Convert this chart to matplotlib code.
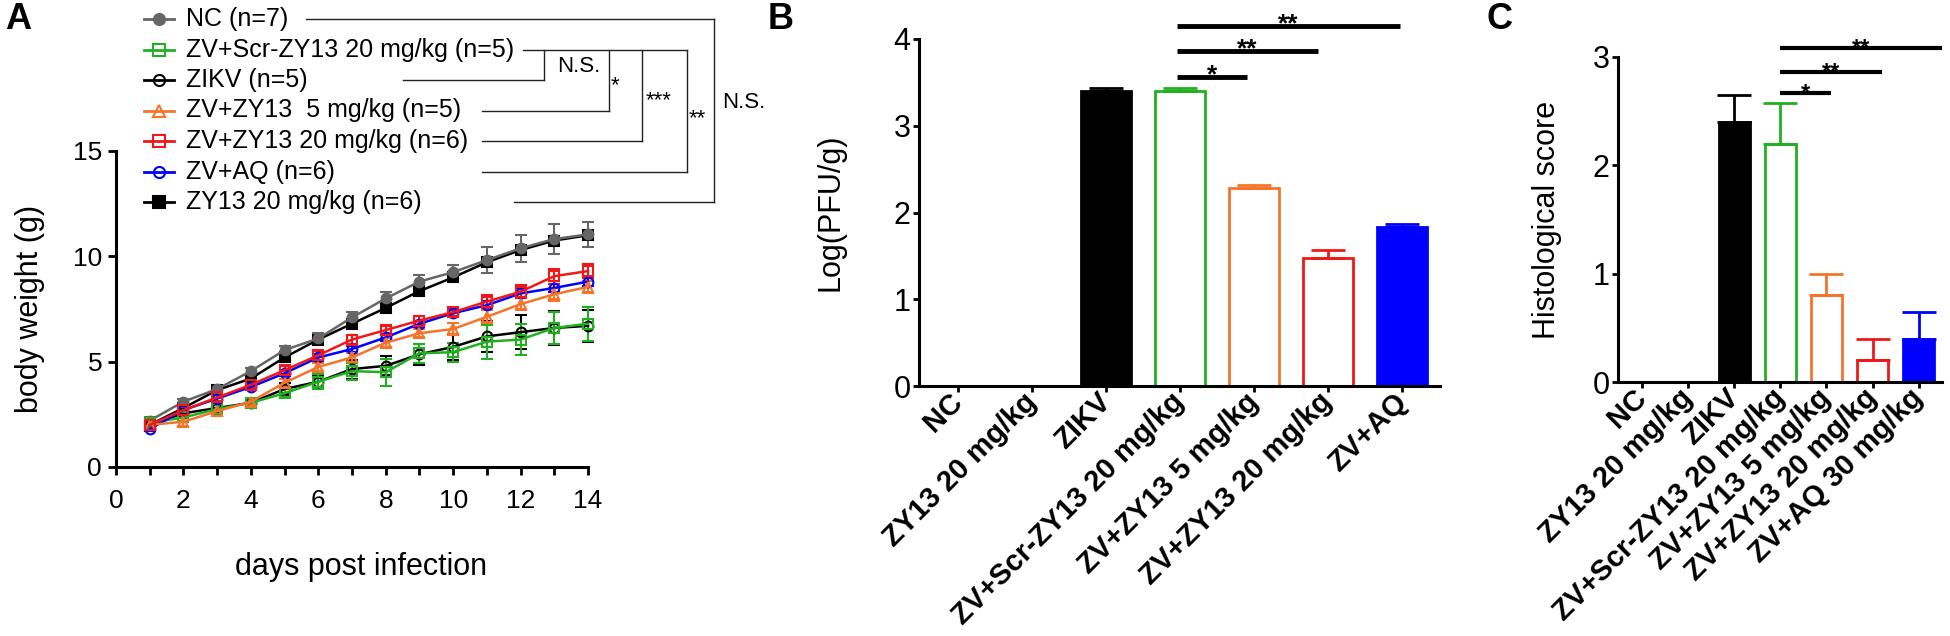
import numpy as np
import matplotlib
matplotlib.use("Agg")
import matplotlib.pyplot as plt

plt.rcParams['font.family'] = ['Liberation Sans', 'DejaVu Sans']

# --- panel A: body weight ---
days = np.arange(1, 15)
labels_a = ['NC (n=7)', 'ZV+Scr-ZY13 20 mg/kg (n=5)', 'ZIKV (n=5)',
            'ZV+ZY13  5 mg/kg (n=5)', 'ZV+ZY13 20 mg/kg (n=6)', 'ZV+AQ (n=6)',
            'ZY13 20 mg/kg (n=6)']
nc_mean = [2.2, 3.1, 3.7, 4.55, 5.55, 6.1, 7.1, 8.0, 8.8, 9.25, 9.82, 10.38, 10.82, 11.04]
nc_err = [0.15, 0.15, 0.15, 0.15, 0.2, 0.25, 0.25, 0.3, 0.3, 0.35, 0.6, 0.65, 0.7, 0.6]
scr_mean = [2.1, 2.35, 2.75, 3.05, 3.5, 4.05, 4.55, 4.5, 5.4, 5.45, 5.95, 6.05, 6.6, 6.8]
scr_err = [0.1, 0.15, 0.2, 0.2, 0.2, 0.35, 0.4, 0.65, 0.45, 0.45, 0.8, 0.75, 0.75, 0.8]
zikv_mean = [2.0, 2.55, 2.8, 3.05, 3.7, 4.05, 4.65, 4.8, 5.35, 5.7, 6.2, 6.4, 6.6, 6.7]
zikv_err = [0.1, 0.15, 0.15, 0.2, 0.3, 0.3, 0.45, 0.45, 0.5, 0.6, 0.75, 0.8, 0.8, 0.75]
zv5_mean = [2.0, 2.15, 2.65, 3.1, 4.0, 4.75, 5.2, 5.9, 6.35, 6.55, 7.13, 7.73, 8.2, 8.55]
zv5_err = [0.1, 0.2, 0.15, 0.15, 0.2, 0.2, 0.2, 0.2, 0.2, 0.3, 0.3, 0.3, 0.3, 0.3]
zv20_mean = [2.0, 2.7, 3.3, 3.9, 4.6, 5.3, 6.05, 6.5, 6.95, 7.35, 7.85, 8.32, 9.06, 9.3]
zv20_err = [0.1, 0.15, 0.15, 0.15, 0.2, 0.2, 0.2, 0.2, 0.2, 0.2, 0.3, 0.3, 0.35, 0.35]
aq_mean = [1.8, 2.7, 3.25, 3.8, 4.45, 5.2, 5.6, 6.15, 6.8, 7.3, 7.68, 8.24, 8.5, 8.8]
aq_err = [0.1, 0.15, 0.15, 0.15, 0.15, 0.15, 0.15, 0.15, 0.15, 0.15, 0.2, 0.2, 0.2, 0.2]
zy_mean = [2.0, 2.8, 3.65, 4.2, 5.2, 6.05, 6.8, 7.55, 8.35, 9.0, 9.72, 10.3, 10.75, 11.0]
zy_err = [0.1, 0.15, 0.15, 0.15, 0.15, 0.15, 0.15, 0.15, 0.15, 0.15, 0.2, 0.2, 0.2, 0.2]

GRAY = '#666666'
GREEN = '#22b022'
ORANGE = '#f5742a'
RED = '#f01818'
BLUE = '#0000ff'

# (mean, err, colour, marker, filled) in legend order
series_a = [
    (nc_mean, nc_err, GRAY, 'o', True),
    (scr_mean, scr_err, GREEN, 's', False),
    (zikv_mean, zikv_err, 'black', 'o', False),
    (zv5_mean, zv5_err, ORANGE, '^', False),
    (zv20_mean, zv20_err, RED, 's', False),
    (aq_mean, aq_err, BLUE, 'o', False),
    (zy_mean, zy_err, 'black', 's', True),
]
draw_order = [6, 0, 2, 1, 5, 3, 4]

# --- panel B: viral load ---
names_b = ['NC', 'ZY13 20 mg/kg', 'ZIKV', 'ZV+Scr-ZY13 20 mg/kg',
           'ZV+ZY13 5 mg/kg', 'ZV+ZY13 20 mg/kg', 'ZV+AQ']
mean_b = [0, 0, 3.40, 3.40, 2.28, 1.47, 1.83]
err_b = [0, 0, 0.04, 0.03, 0.04, 0.10, 0.04]
sig_b = [(2.95, 3.9, 3.56, '*'), (2.95, 4.86, 3.86, '**'), (2.95, 5.97, 4.15, '**')]

# --- panel C: histology ---
names_c = ['NC', 'ZY13 20 mg/kg', 'ZIKV', 'ZV+Scr-ZY13 20 mg/kg',
           'ZV+ZY13 5 mg/kg', 'ZV+ZY13 20 mg/kg', 'ZV+AQ 30 mg/kg']
mean_c = [0, 0, 2.4, 2.2, 0.8, 0.2, 0.4]
err_c = [0, 0, 0.25, 0.38, 0.2, 0.2, 0.25]
sig_c = [(3.0, 4.1, 2.67, '*'), (3.0, 5.2, 2.86, '**'), (3.0, 6.5, 3.08, '**')]

bar_face = ['none', 'none', 'black', 'white', 'white', 'white', BLUE]
bar_edge = ['none', 'none', 'black', GREEN, ORANGE, RED, BLUE]

W, H = 1950, 636
fig = plt.figure(figsize=(W / 100, H / 100), dpi=100)

# overlay in pixel coords for legend / brackets / panel letters
ov = fig.add_axes([0, 0, 1, 1], zorder=5)
ov.set_xlim(0, W)
ov.set_ylim(H, 0)
ov.axis('off')
ov.patch.set_alpha(0)

# ---------- A ----------
axA = fig.add_axes([116 / W, 1 - 467 / H, 472 / W, 316 / H])
for i in draw_order:
    m, e, c, mk, filled = series_a[i]
    axA.errorbar(days, m, yerr=e, color=c, marker=mk, ms=7,
                 mfc=c if filled else 'none', mec=c, mew=1.5, lw=1.8,
                 elinewidth=1.5, capsize=4, capthick=1.5, clip_on=False)
axA.set_xlim(0, 14)
axA.set_ylim(0, 15)
axA.set_xticks(range(0, 15, 2))
axA.set_xticks(range(1, 15, 2), minor=True)
axA.set_yticks([0, 5, 10, 15])
axA.spines[['top', 'right']].set_visible(False)
axA.spines[['left', 'bottom']].set_linewidth(2.2)
axA.tick_params(which='both', direction='out', width=2, length=6, labelsize=19)
axA.tick_params(axis='x', pad=10)
axA.tick_params(axis='y', pad=4)
axA.set_xlabel('days post infection', fontsize=22)
axA.xaxis.set_label_coords(0.52, -0.27)
axA.set_ylabel('body weight (g)', fontsize=22)
axA.yaxis.set_label_coords(-0.15, 0.5)

# legend drawn by hand, rows in pixel coords
rows = [19 + 30.5 * i for i in range(7)]
for (m, e, c, mk, filled), lab, y in zip(series_a, labels_a, rows):
    ov.plot([144, 159, 174], [y, y, y], color=c, lw=2, marker=mk, ms=8,
            markevery=[1], mfc=c if filled else 'none', mec=c, mew=1.5)
    ov.text(186, y, lab, fontsize=18, va='center', ha='left')

# brackets
bk = dict(color='#222222', lw=1.0)
row_lines = [(0, 306, 714), (1, 523, 687), (2, 403, 544), (3, 482, 609),
             (4, 482, 642), (5, 482, 687), (6, 514, 714)]
for r, x0, x1 in row_lines:
    ov.plot([x0, x1], [rows[r], rows[r]], **bk)
for x, r0, r1 in [(544, 1, 2), (609, 1, 3), (642, 1, 4), (687, 1, 5), (714, 0, 6)]:
    ov.plot([x, x], [rows[r0], rows[r1]], **bk)
ov.text(557, 66, 'N.S.', fontsize=16, va='center')
ov.text(611, 86, '*', fontsize=16, va='center')
ov.text(646, 101, '***', fontsize=16, va='center')
ov.text(689, 119, '**', fontsize=16, va='center')
ov.text(722, 103, 'N.S.', fontsize=16, va='center')

ov.text(5, 2, 'A', fontsize=26, fontweight='bold', va='top')
ov.text(768, 2, 'B', fontsize=26, fontweight='bold', va='top')
ov.text(1487, 2, 'C', fontsize=26, fontweight='bold', va='top')


def bar_panel(ax, names, mean, err, sig, ymax, ylab, ylab_x, sig_lw, star_fs, star_dy):
    x = np.arange(len(names))
    ax.bar(x, mean, width=0.68, color=bar_face, edgecolor=bar_edge, linewidth=2)
    for xi, mv, ev, c in zip(x, mean, err, bar_edge):
        if mv > 0:
            ax.errorbar(xi, mv, yerr=[[0], [ev]], color=c, elinewidth=2,
                        capsize=12, capthick=2)
    for x0, x1, y, s in sig:
        ax.plot([x0, x1], [y, y], color='black', lw=sig_lw, clip_on=False,
                solid_capstyle='butt')
        ax.annotate(s, xy=((x0 + x1) / 2, y), xytext=(0, star_dy),
                    textcoords='offset points', ha='center', va='baseline',
                    fontsize=star_fs, fontweight='bold', annotation_clip=False)
    ax.set_xlim(-0.53, len(names) - 0.49)
    ax.set_ylim(0, ymax)
    ax.set_yticks(range(0, ymax + 1))
    ax.set_xticks(x)
    ax.set_xticklabels(names, rotation=45, ha='right', va='center',
                       rotation_mode='anchor', fontweight='bold', fontsize=21)
    ax.spines[['top', 'right']].set_visible(False)
    ax.spines[['left', 'bottom']].set_linewidth(2.2)
    ax.tick_params(axis='y', direction='out', width=2, length=4, labelsize=22, pad=2)
    ax.tick_params(axis='x', direction='out', width=2, length=4, pad=4.5)
    ax.set_ylabel(ylab, fontsize=22)
    ax.yaxis.set_label_coords(ylab_x, 0.5)


axB = fig.add_axes([919 / W, 1 - 386 / H, 521 / W, 347 / H])
bar_panel(axB, names_b, mean_b, err_b, sig_b, 4, 'Log(PFU/g)', -0.142, 3.5, 19, -4)

axC = fig.add_axes([1618 / W, 1 - 382 / H, 324 / W, 325 / H])
bar_panel(axC, names_c, mean_c, err_c, sig_c, 3, 'Histological score', -0.173, 3.0, 17, -5)

fig.savefig('out.png', dpi=100)
